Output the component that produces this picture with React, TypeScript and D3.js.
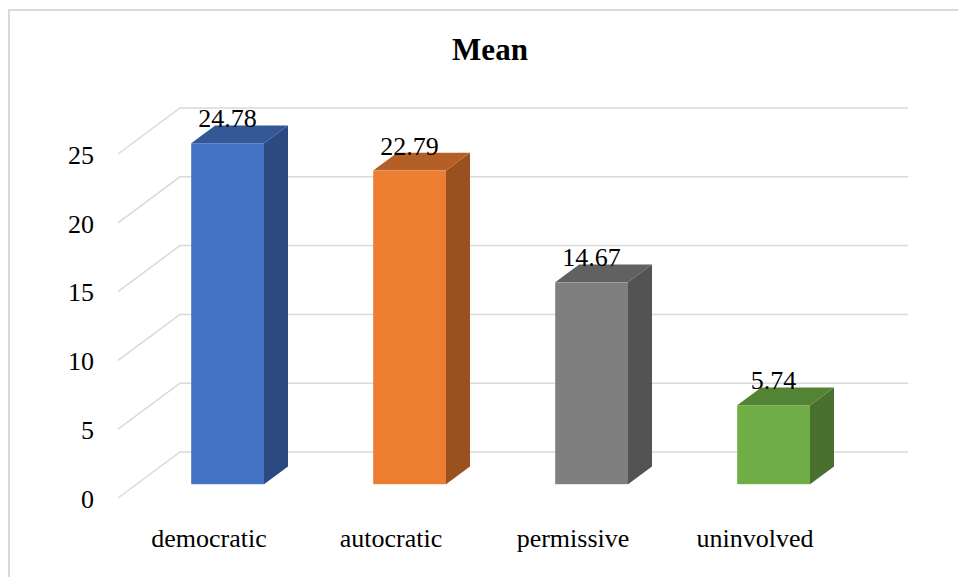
import React from 'react';
import * as d3 from 'd3';

// chart data
const categories = ['democratic', 'autocratic', 'permissive', 'uninvolved'];
const meanValues = [24.78, 22.79, 14.67, 5.74];
const barColors = ['#4472C4', '#ED7D31', '#7F7F7F', '#70AD47'];
const yTicks = [0, 5, 10, 15, 20, 25];
const chartTitle = 'Mean';

const W = 958;
const H = 577;
const font = '"Liberation Serif", "Times New Roman", serif';

// 3d depth of the floor (front edge -> back wall)
const depthX = 62;
const depthY = -46;
// bar sits between these fractions of the depth
const barFront = 0.3;
const barBack = 0.687;

const shade = (c: string, k: number) => {
    const col = d3.rgb(c);
    return d3.rgb(col.r * k, col.g * k, col.b * k).formatHex();
};

const App = () => {
    const x = d3.scaleBand()
        .domain(categories)
        .range([118, 846]);
    const y = d3.scaleLinear()
        .domain([0, 25])
        .range([498, 154]);

    const bw = x.bandwidth() * 0.4;
    const fx = barFront * depthX, fy = barFront * depthY;
    const bx = barBack * depthX, by = barBack * depthY;
    const sx = bx - fx, sy = by - fy;

    return (
        <svg width={W} height={H} style={{ position: 'absolute', left: 0, top: 0, background: '#fff' }}>
            <rect x={9} y={10} width={W + 20} height={H + 20} fill="#fff" stroke="#d9d9d9" strokeWidth={2} />
            <text x={490} y={60} textAnchor="middle" fontFamily={font} fontSize={31} fontWeight="bold">{chartTitle}</text>

            {/* gridlines: side wall diagonal + back wall */}
            {yTicks.map(t => (
                <g key={t}>
                    <path
                        d={`M118,${y(t)}L${118 + depthX},${y(t) + depthY}L908,${y(t) + depthY}`}
                        fill="none" stroke="#d9d9d9" strokeWidth={1.5}
                    />
                    <text x={94} y={y(t)} dy="0.38em" textAnchor="end" fontFamily={font} fontSize={26}>{t}</text>
                </g>
            ))}

            {categories.map((c, i) => {
                const v = meanValues[i];
                const x0 = (x(c) as number) + (x.bandwidth() - bw) / 2 + fx;
                const x1 = x0 + bw;
                const yb = y(0) + fy;
                const yt = y(v) + fy;
                const col = barColors[i];
                return (
                    <g key={c}>
                        <path d={`M${x1},${yb}L${x1 + sx},${yb + sy}L${x1 + sx},${yt + sy}L${x1},${yt}Z`} fill={shade(col, 0.65)} />
                        <path d={`M${x0},${yt}L${x0 + sx},${yt + sy}L${x1 + sx},${yt + sy}L${x1},${yt}Z`} fill={shade(col, 0.76)} />
                        <rect x={x0} y={yt} width={bw} height={yb - yt} fill={col} />
                        <text x={x0 + bw / 2} y={yt - 16} textAnchor="middle" fontFamily={font} fontSize={26}>{v.toFixed(2)}</text>
                        <text x={(x(c) as number) + x.bandwidth() / 2} y={547} textAnchor="middle" fontFamily={font} fontSize={26}>{c}</text>
                    </g>
                );
            })}
        </svg>
    );
};

export default App;
